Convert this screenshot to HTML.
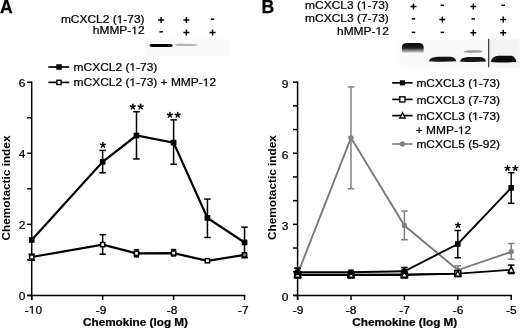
<!DOCTYPE html>
<html><head><meta charset="utf-8"><style>
html,body{margin:0;padding:0;background:#fff;}
body{width:520px;height:329px;overflow:hidden;}
svg{display:block;font-family:"Liberation Sans", sans-serif;filter:grayscale(1);}
</style></head><body>
<svg width="520" height="329" viewBox="0 0 520 329">
<defs>
<filter id="blur05" x="-20%" y="-100%" width="140%" height="300%"><feGaussianBlur stdDeviation="0.5"/></filter>
<filter id="blur1" x="-20%" y="-100%" width="140%" height="300%"><feGaussianBlur stdDeviation="0.6"/></filter>
<filter id="soft" x="-10%" y="-30%" width="120%" height="160%"><feGaussianBlur stdDeviation="1.2"/></filter>
<linearGradient id="bandA" x1="0" y1="0" x2="0" y2="1">
<stop offset="0" stop-color="#080808"/><stop offset="0.48" stop-color="#1c1c1c"/><stop offset="0.75" stop-color="#8a8a8a"/><stop offset="1" stop-color="#f6f6f6"/></linearGradient>
</defs>
<rect width="520" height="329" fill="#fff"/>
<text transform="translate(0.00,12.70) scale(1.000,1.080)" font-size="17.60" text-anchor="start" font-weight="bold" stroke="#000" stroke-width="0.25" >A</text>
<g transform="translate(144.60,23.20) scale(1.040,0.960)"><text font-size="11.50" text-anchor="end" font-weight="normal" stroke="#000" stroke-width="0.25" >mCXCL2 ( -73)</text><path transform="translate(-26.838,0) scale(0.00562,-0.00562)" d="M515 0V1237L197 1010V1180L530 1409H696V0Z" stroke="#000" stroke-width="44.5"/></g>
<g transform="translate(144.60,34.30) scale(1.040,0.960)"><text font-size="11.50" text-anchor="end" font-weight="normal" stroke="#000" stroke-width="0.25" >hMMP- 2</text><path transform="translate(-12.802,0) scale(0.00562,-0.00562)" d="M515 0V1237L197 1010V1180L530 1409H696V0Z" stroke="#000" stroke-width="44.5"/></g>
<path d="M158.15,19.22h6.00v1.45h-6.00z M160.43,16.95h1.45v6.00h-1.45z" fill="#000"/>
<rect x="159.40" y="31.05" width="3.50" height="1.50" fill="#000"/>
<path d="M183.40,19.22h6.00v1.45h-6.00z M185.68,16.95h1.45v6.00h-1.45z" fill="#000"/>
<path d="M183.40,31.77h6.00v1.45h-6.00z M185.68,29.50h1.45v6.00h-1.45z" fill="#000"/>
<rect x="210.80" y="18.45" width="3.50" height="1.50" fill="#000"/>
<path d="M209.55,31.77h6.00v1.45h-6.00z M211.83,29.50h1.45v6.00h-1.45z" fill="#000"/>
<rect x="144.5" y="39.5" width="85" height="16.5" fill="#f9f9f9" filter="url(#soft)"/>
<path d="M149.6,45.3 Q149.6,43.9 152,43.9 L170.5,44.1 Q172.8,44.3 172.8,45.6 Q172.8,46.9 170.5,47.0 L152,47.1 Q149.6,47.1 149.6,45.3 Z" fill="#000" filter="url(#blur05)"/>
<path d="M175.2,45.0 Q176,43.8 179,43.8 L194,43.9 Q198,44.2 198,44.8 Q197,45.9 194,46.0 L179,46.1 Q175.5,46.1 175.2,45.0 Z" fill="#b4b4b4" filter="url(#blur05)"/>
<line x1="48.3" y1="67.00" x2="69.2" y2="67.00" stroke="#000" stroke-width="1.7"/>
<rect x="56.25" y="64.25" width="5.50" height="5.50" fill="#000"/>
<g transform="translate(73.60,70.80) scale(1.040,0.960)"><text font-size="11.50" text-anchor="start" font-weight="normal" stroke="#000" stroke-width="0.25" >mCXCL2 ( -73)</text><path transform="translate(53.629,0) scale(0.00562,-0.00562)" d="M515 0V1237L197 1010V1180L530 1409H696V0Z" stroke="#000" stroke-width="44.5"/></g>
<line x1="48.3" y1="82.40" x2="69.2" y2="82.40" stroke="#000" stroke-width="1.7"/>
<rect x="56.90" y="80.30" width="4.20" height="4.20" fill="#fff" stroke="#000" stroke-width="1.40"/>
<g transform="translate(73.60,86.20) scale(1.040,0.960)"><text font-size="11.50" text-anchor="start" font-weight="normal" stroke="#000" stroke-width="0.25" >mCXCL2 ( -73) + MMP- 2</text><path transform="translate(53.629,0) scale(0.00562,-0.00562)" d="M515 0V1237L197 1010V1180L530 1409H696V0Z" stroke="#000" stroke-width="44.5"/><path transform="translate(124.182,0) scale(0.00562,-0.00562)" d="M515 0V1237L197 1010V1180L530 1409H696V0Z" stroke="#000" stroke-width="44.5"/></g>
<line x1="31.70" y1="81.47" x2="31.70" y2="300.00" stroke="#000" stroke-width="1.50"/>
<line x1="27.10" y1="295.40" x2="245.30" y2="295.40" stroke="#000" stroke-width="1.50"/>
<line x1="27.10" y1="295.40" x2="31.70" y2="295.40" stroke="#000" stroke-width="1.50"/>
<line x1="27.10" y1="259.87" x2="31.70" y2="259.87" stroke="#000" stroke-width="1.50"/>
<line x1="27.10" y1="224.34" x2="31.70" y2="224.34" stroke="#000" stroke-width="1.50"/>
<line x1="27.10" y1="188.81" x2="31.70" y2="188.81" stroke="#000" stroke-width="1.50"/>
<line x1="27.10" y1="153.28" x2="31.70" y2="153.28" stroke="#000" stroke-width="1.50"/>
<line x1="27.10" y1="117.75" x2="31.70" y2="117.75" stroke="#000" stroke-width="1.50"/>
<line x1="27.10" y1="82.22" x2="31.70" y2="82.22" stroke="#000" stroke-width="1.50"/>
<text transform="translate(25.40,299.80) scale(1.040,0.960)" font-size="11.50" text-anchor="end" font-weight="normal" stroke="#000" stroke-width="0.25" >0</text>
<text transform="translate(25.40,228.74) scale(1.040,0.960)" font-size="11.50" text-anchor="end" font-weight="normal" stroke="#000" stroke-width="0.25" >2</text>
<text transform="translate(25.40,157.68) scale(1.040,0.960)" font-size="11.50" text-anchor="end" font-weight="normal" stroke="#000" stroke-width="0.25" >4</text>
<text transform="translate(25.40,86.62) scale(1.040,0.960)" font-size="11.50" text-anchor="end" font-weight="normal" stroke="#000" stroke-width="0.25" >6</text>
<line x1="31.70" y1="295.40" x2="31.70" y2="300.00" stroke="#000" stroke-width="1.50"/>
<line x1="102.65" y1="295.40" x2="102.65" y2="300.00" stroke="#000" stroke-width="1.50"/>
<line x1="173.60" y1="295.40" x2="173.60" y2="300.00" stroke="#000" stroke-width="1.50"/>
<line x1="244.55" y1="295.40" x2="244.55" y2="300.00" stroke="#000" stroke-width="1.50"/>
<g transform="translate(33.40,313.60) scale(1.040,0.960)"><text font-size="11.50" text-anchor="middle" font-weight="normal" stroke="#000" stroke-width="0.25" >- 0</text><path transform="translate(-4.481,0) scale(0.00562,-0.00562)" d="M515 0V1237L197 1010V1180L530 1409H696V0Z" stroke="#000" stroke-width="44.5"/></g>
<text transform="translate(101.05,313.60) scale(1.040,0.960)" font-size="11.50" text-anchor="middle" font-weight="normal" stroke="#000" stroke-width="0.25" >-9</text>
<text transform="translate(172.05,313.60) scale(1.040,0.960)" font-size="11.50" text-anchor="middle" font-weight="normal" stroke="#000" stroke-width="0.25" >-8</text>
<text transform="translate(243.25,313.60) scale(1.040,0.960)" font-size="11.50" text-anchor="middle" font-weight="normal" stroke="#000" stroke-width="0.25" >-7</text>
<text transform="translate(135.50,326.30) scale(1.000,0.980)" font-size="11.75" text-anchor="middle" font-weight="bold" stroke="#000" stroke-width="0.25" >Chemokine (log M)</text>
<text transform="translate(9.6,188) rotate(-90)" font-size="11.80" text-anchor="middle" font-weight="bold">Chemotactic index</text>
<line x1="31.70" y1="254.19" x2="31.70" y2="260.23" stroke="#000" stroke-width="1.50"/>
<line x1="28.45" y1="254.19" x2="34.95" y2="254.19" stroke="#000" stroke-width="1.50"/>
<line x1="28.45" y1="260.23" x2="34.95" y2="260.23" stroke="#000" stroke-width="1.50"/>
<line x1="102.65" y1="234.64" x2="102.65" y2="254.19" stroke="#000" stroke-width="1.50"/>
<line x1="99.40" y1="234.64" x2="105.90" y2="234.64" stroke="#000" stroke-width="1.50"/>
<line x1="99.40" y1="254.19" x2="105.90" y2="254.19" stroke="#000" stroke-width="1.50"/>
<line x1="136.49" y1="249.74" x2="136.49" y2="256.85" stroke="#000" stroke-width="1.50"/>
<line x1="133.89" y1="249.74" x2="139.09" y2="249.74" stroke="#000" stroke-width="1.50"/>
<line x1="133.89" y1="256.85" x2="139.09" y2="256.85" stroke="#000" stroke-width="1.50"/>
<line x1="173.60" y1="249.57" x2="173.60" y2="255.96" stroke="#000" stroke-width="1.50"/>
<line x1="171.00" y1="249.57" x2="176.20" y2="249.57" stroke="#000" stroke-width="1.50"/>
<line x1="171.00" y1="255.96" x2="176.20" y2="255.96" stroke="#000" stroke-width="1.50"/>
<polyline points="31.70,257.03 102.65,244.59 136.49,253.30 173.60,253.12 207.44,260.76 244.55,254.90" fill="none" stroke="#000" stroke-width="2.20" stroke-linejoin="miter"/>
<line x1="102.65" y1="150.44" x2="102.65" y2="172.82" stroke="#000" stroke-width="1.50"/>
<line x1="99.40" y1="150.44" x2="105.90" y2="150.44" stroke="#000" stroke-width="1.50"/>
<line x1="99.40" y1="172.82" x2="105.90" y2="172.82" stroke="#000" stroke-width="1.50"/>
<line x1="136.49" y1="111.71" x2="136.49" y2="158.96" stroke="#000" stroke-width="1.50"/>
<line x1="133.24" y1="111.71" x2="139.74" y2="111.71" stroke="#000" stroke-width="1.50"/>
<line x1="133.24" y1="158.96" x2="139.74" y2="158.96" stroke="#000" stroke-width="1.50"/>
<line x1="173.60" y1="119.88" x2="173.60" y2="164.29" stroke="#000" stroke-width="1.50"/>
<line x1="170.35" y1="119.88" x2="176.85" y2="119.88" stroke="#000" stroke-width="1.50"/>
<line x1="170.35" y1="164.29" x2="176.85" y2="164.29" stroke="#000" stroke-width="1.50"/>
<line x1="207.44" y1="199.11" x2="207.44" y2="237.49" stroke="#000" stroke-width="1.50"/>
<line x1="204.19" y1="199.11" x2="210.69" y2="199.11" stroke="#000" stroke-width="1.50"/>
<line x1="204.19" y1="237.49" x2="210.69" y2="237.49" stroke="#000" stroke-width="1.50"/>
<line x1="244.55" y1="227.18" x2="244.55" y2="257.74" stroke="#000" stroke-width="1.50"/>
<line x1="241.30" y1="227.18" x2="247.80" y2="227.18" stroke="#000" stroke-width="1.50"/>
<line x1="241.30" y1="257.74" x2="247.80" y2="257.74" stroke="#000" stroke-width="1.50"/>
<polyline points="31.70,239.97 102.65,161.81 136.49,135.51 173.60,142.62 207.44,217.94 244.55,242.46" fill="none" stroke="#000" stroke-width="2.20" stroke-linejoin="miter"/>
<rect x="29.60" y="254.93" width="4.20" height="4.20" fill="#fff" stroke="#000" stroke-width="1.50"/>
<rect x="100.55" y="242.49" width="4.20" height="4.20" fill="#fff" stroke="#000" stroke-width="1.50"/>
<rect x="134.39" y="251.20" width="4.20" height="4.20" fill="#fff" stroke="#000" stroke-width="1.50"/>
<rect x="171.50" y="251.02" width="4.20" height="4.20" fill="#fff" stroke="#000" stroke-width="1.50"/>
<rect x="205.34" y="258.66" width="4.20" height="4.20" fill="#fff" stroke="#000" stroke-width="1.50"/>
<rect x="242.45" y="252.80" width="4.20" height="4.20" fill="#8a8a8a" stroke="#000" stroke-width="1.50"/>
<rect x="28.85" y="237.12" width="5.70" height="5.70" fill="#000"/>
<rect x="99.80" y="158.96" width="5.70" height="5.70" fill="#000"/>
<rect x="133.64" y="132.66" width="5.70" height="5.70" fill="#000"/>
<rect x="170.75" y="139.77" width="5.70" height="5.70" fill="#000"/>
<rect x="204.59" y="215.09" width="5.70" height="5.70" fill="#000"/>
<rect x="241.70" y="239.61" width="5.70" height="5.70" fill="#000"/>
<line x1="102.90" y1="145.10" x2="102.90" y2="142.55" stroke="#000" stroke-width="1.45" stroke-linecap="round"/>
<line x1="102.90" y1="145.10" x2="105.33" y2="144.31" stroke="#000" stroke-width="1.45" stroke-linecap="round"/>
<line x1="102.90" y1="145.10" x2="104.40" y2="147.16" stroke="#000" stroke-width="1.45" stroke-linecap="round"/>
<line x1="102.90" y1="145.10" x2="101.40" y2="147.16" stroke="#000" stroke-width="1.45" stroke-linecap="round"/>
<line x1="102.90" y1="145.10" x2="100.47" y2="144.31" stroke="#000" stroke-width="1.45" stroke-linecap="round"/>
<line x1="132.85" y1="106.80" x2="132.85" y2="104.25" stroke="#000" stroke-width="1.45" stroke-linecap="round"/>
<line x1="132.85" y1="106.80" x2="135.28" y2="106.01" stroke="#000" stroke-width="1.45" stroke-linecap="round"/>
<line x1="132.85" y1="106.80" x2="134.35" y2="108.86" stroke="#000" stroke-width="1.45" stroke-linecap="round"/>
<line x1="132.85" y1="106.80" x2="131.35" y2="108.86" stroke="#000" stroke-width="1.45" stroke-linecap="round"/>
<line x1="132.85" y1="106.80" x2="130.42" y2="106.01" stroke="#000" stroke-width="1.45" stroke-linecap="round"/>
<line x1="140.65" y1="106.80" x2="140.65" y2="104.25" stroke="#000" stroke-width="1.45" stroke-linecap="round"/>
<line x1="140.65" y1="106.80" x2="143.08" y2="106.01" stroke="#000" stroke-width="1.45" stroke-linecap="round"/>
<line x1="140.65" y1="106.80" x2="142.15" y2="108.86" stroke="#000" stroke-width="1.45" stroke-linecap="round"/>
<line x1="140.65" y1="106.80" x2="139.15" y2="108.86" stroke="#000" stroke-width="1.45" stroke-linecap="round"/>
<line x1="140.65" y1="106.80" x2="138.22" y2="106.01" stroke="#000" stroke-width="1.45" stroke-linecap="round"/>
<line x1="169.90" y1="115.00" x2="169.90" y2="112.45" stroke="#000" stroke-width="1.45" stroke-linecap="round"/>
<line x1="169.90" y1="115.00" x2="172.33" y2="114.21" stroke="#000" stroke-width="1.45" stroke-linecap="round"/>
<line x1="169.90" y1="115.00" x2="171.40" y2="117.06" stroke="#000" stroke-width="1.45" stroke-linecap="round"/>
<line x1="169.90" y1="115.00" x2="168.40" y2="117.06" stroke="#000" stroke-width="1.45" stroke-linecap="round"/>
<line x1="169.90" y1="115.00" x2="167.47" y2="114.21" stroke="#000" stroke-width="1.45" stroke-linecap="round"/>
<line x1="177.70" y1="115.00" x2="177.70" y2="112.45" stroke="#000" stroke-width="1.45" stroke-linecap="round"/>
<line x1="177.70" y1="115.00" x2="180.13" y2="114.21" stroke="#000" stroke-width="1.45" stroke-linecap="round"/>
<line x1="177.70" y1="115.00" x2="179.20" y2="117.06" stroke="#000" stroke-width="1.45" stroke-linecap="round"/>
<line x1="177.70" y1="115.00" x2="176.20" y2="117.06" stroke="#000" stroke-width="1.45" stroke-linecap="round"/>
<line x1="177.70" y1="115.00" x2="175.27" y2="114.21" stroke="#000" stroke-width="1.45" stroke-linecap="round"/>
<text transform="translate(261.40,13.00) scale(1.000,1.080)" font-size="17.60" text-anchor="start" font-weight="bold" stroke="#000" stroke-width="0.25" >B</text>
<g transform="translate(388.80,9.20) scale(1.040,0.960)"><text font-size="11.50" text-anchor="end" font-weight="normal" stroke="#000" stroke-width="0.25" >mCXCL3 ( -73)</text><path transform="translate(-26.838,0) scale(0.00562,-0.00562)" d="M515 0V1237L197 1010V1180L530 1409H696V0Z" stroke="#000" stroke-width="44.5"/></g>
<text transform="translate(388.80,22.10) scale(1.040,0.960)" font-size="11.50" text-anchor="end" font-weight="normal" stroke="#000" stroke-width="0.25" >mCXCL3 (7-73)</text>
<g transform="translate(388.80,34.80) scale(1.040,0.960)"><text font-size="11.50" text-anchor="end" font-weight="normal" stroke="#000" stroke-width="0.25" >hMMP- 2</text><path transform="translate(-12.802,0) scale(0.00562,-0.00562)" d="M515 0V1237L197 1010V1180L530 1409H696V0Z" stroke="#000" stroke-width="44.5"/></g>
<path d="M410.45,5.68h6.00v1.45h-6.00z M412.72,3.40h1.45v6.00h-1.45z" fill="#000"/>
<rect x="440.60" y="4.55" width="3.50" height="1.50" fill="#000"/>
<path d="M470.30,5.68h6.00v1.45h-6.00z M472.57,3.40h1.45v6.00h-1.45z" fill="#000"/>
<rect x="501.45" y="4.55" width="3.50" height="1.50" fill="#000"/>
<rect x="411.70" y="18.10" width="3.50" height="1.50" fill="#000"/>
<path d="M439.35,18.72h6.00v1.45h-6.00z M441.62,16.45h1.45v6.00h-1.45z" fill="#000"/>
<rect x="471.55" y="18.10" width="3.50" height="1.50" fill="#000"/>
<path d="M500.20,18.72h6.00v1.45h-6.00z M502.47,16.45h1.45v6.00h-1.45z" fill="#000"/>
<rect x="411.70" y="31.60" width="3.50" height="1.50" fill="#000"/>
<rect x="440.60" y="31.60" width="3.50" height="1.50" fill="#000"/>
<path d="M470.30,32.07h6.00v1.45h-6.00z M472.57,29.80h1.45v6.00h-1.45z" fill="#000"/>
<path d="M500.20,32.07h6.00v1.45h-6.00z M502.47,29.80h1.45v6.00h-1.45z" fill="#000"/>
<rect x="399.5" y="40" width="121" height="27.5" fill="#fafafa" filter="url(#soft)"/>
<rect x="489" y="39" width="31" height="28.5" fill="#f3f3f3" filter="url(#soft)"/>
<path d="M401.9,53.2 L401.9,47 Q402.2,42.9 407,42.9 L418.5,42.9 Q423.6,42.9 423.7,47 L423.7,53.2 Z" fill="url(#bandA)" filter="url(#blur05)"/>
<path d="M429.00,61.20 Q430.00,57.10 437.19,56.80 L450.84,56.80 Q455.50,57.40 456.30,61.30 Q442.65,62.20 429.00,61.20 Z" fill="#151515" filter="url(#blur05)"/>
<path d="M460.00,61.50 Q461.00,57.40 467.80,57.10 L480.80,57.10 Q485.20,57.70 486.00,61.60 Q473.00,62.50 460.00,61.50 Z" fill="#151515" filter="url(#blur05)"/>
<path d="M490.80,62.00 Q491.80,56.10 498.48,55.80 L511.28,55.80 Q515.60,56.40 516.40,62.10 Q503.60,63.00 490.80,62.00 Z" fill="#111" filter="url(#blur05)"/>
<path d="M463.30,52.20 Q464.30,50.50 469.21,50.20 L479.06,50.20 Q482.20,50.80 483.00,52.30 Q473.15,53.20 463.30,52.20 Z" fill="#9a9a9a" filter="url(#blur05)"/>
<line x1="488.7" y1="38.8" x2="488.7" y2="67.2" stroke="#222" stroke-width="1.1"/>
<line x1="392.2" y1="82.85" x2="412.6" y2="82.85" stroke="#000" stroke-width="1.7"/>
<rect x="399.85" y="80.30" width="5.10" height="5.10" fill="#000"/>
<g transform="translate(416.40,86.85) scale(1.040,0.960)"><text font-size="11.50" text-anchor="start" font-weight="normal" stroke="#000" stroke-width="0.25" >mCXCL3 ( -73)</text><path transform="translate(53.629,0) scale(0.00562,-0.00562)" d="M515 0V1237L197 1010V1180L530 1409H696V0Z" stroke="#000" stroke-width="44.5"/></g>
<line x1="392.2" y1="99.40" x2="412.6" y2="99.40" stroke="#000" stroke-width="1.7"/>
<rect x="399.80" y="96.80" width="5.20" height="5.20" fill="#fff" stroke="#000" stroke-width="1.35"/>
<text transform="translate(416.40,103.70) scale(1.040,0.960)" font-size="11.50" text-anchor="start" font-weight="normal" stroke="#000" stroke-width="0.25" >mCXCL3 (7-73)</text>
<line x1="392.2" y1="115.60" x2="412.6" y2="115.60" stroke="#000" stroke-width="1.7"/>
<polygon points="402.50,112.77 405.20,118.03 399.80,118.03" fill="#fff" stroke="#000" stroke-width="1.35" stroke-linejoin="miter"/>
<g transform="translate(416.40,120.10) scale(1.040,0.960)"><text font-size="11.50" text-anchor="start" font-weight="normal" stroke="#000" stroke-width="0.25" >mCXCL3 ( -73)</text><path transform="translate(53.629,0) scale(0.00562,-0.00562)" d="M515 0V1237L197 1010V1180L530 1409H696V0Z" stroke="#000" stroke-width="44.5"/></g>
<line x1="392.2" y1="144.00" x2="412.6" y2="144.00" stroke="#808080" stroke-width="1.7"/>
<circle cx="402.45" cy="144.00" r="2.70" fill="#808080"/>
<text transform="translate(416.40,148.10) scale(1.040,0.960)" font-size="11.50" text-anchor="start" font-weight="normal" stroke="#000" stroke-width="0.25" >mCXCL5 (5-92)</text>
<g transform="translate(415.80,134.20) scale(1.040,0.960)"><text font-size="11.50" text-anchor="start" font-weight="normal" stroke="#000" stroke-width="0.25" >+ MMP- 2</text><path transform="translate(40.530,0) scale(0.00562,-0.00562)" d="M515 0V1237L197 1010V1180L530 1409H696V0Z" stroke="#000" stroke-width="44.5"/></g>
<line x1="297.60" y1="81.44" x2="297.60" y2="300.00" stroke="#000" stroke-width="1.50"/>
<line x1="293.00" y1="295.40" x2="511.95" y2="295.40" stroke="#000" stroke-width="1.50"/>
<line x1="293.00" y1="295.40" x2="297.60" y2="295.40" stroke="#000" stroke-width="1.50"/>
<line x1="293.00" y1="271.71" x2="297.60" y2="271.71" stroke="#000" stroke-width="1.50"/>
<line x1="293.00" y1="248.02" x2="297.60" y2="248.02" stroke="#000" stroke-width="1.50"/>
<line x1="293.00" y1="224.33" x2="297.60" y2="224.33" stroke="#000" stroke-width="1.50"/>
<line x1="293.00" y1="200.64" x2="297.60" y2="200.64" stroke="#000" stroke-width="1.50"/>
<line x1="293.00" y1="176.95" x2="297.60" y2="176.95" stroke="#000" stroke-width="1.50"/>
<line x1="293.00" y1="153.26" x2="297.60" y2="153.26" stroke="#000" stroke-width="1.50"/>
<line x1="293.00" y1="129.57" x2="297.60" y2="129.57" stroke="#000" stroke-width="1.50"/>
<line x1="293.00" y1="105.88" x2="297.60" y2="105.88" stroke="#000" stroke-width="1.50"/>
<line x1="293.00" y1="82.19" x2="297.60" y2="82.19" stroke="#000" stroke-width="1.50"/>
<text transform="translate(288.30,301.30) scale(1.040,0.960)" font-size="11.50" text-anchor="end" font-weight="normal" stroke="#000" stroke-width="0.25" >0</text>
<text transform="translate(288.30,230.23) scale(1.040,0.960)" font-size="11.50" text-anchor="end" font-weight="normal" stroke="#000" stroke-width="0.25" >3</text>
<text transform="translate(288.30,159.16) scale(1.040,0.960)" font-size="11.50" text-anchor="end" font-weight="normal" stroke="#000" stroke-width="0.25" >6</text>
<text transform="translate(288.30,88.09) scale(1.040,0.960)" font-size="11.50" text-anchor="end" font-weight="normal" stroke="#000" stroke-width="0.25" >9</text>
<line x1="297.60" y1="295.40" x2="297.60" y2="300.00" stroke="#000" stroke-width="1.50"/>
<line x1="351.00" y1="295.40" x2="351.00" y2="300.00" stroke="#000" stroke-width="1.50"/>
<line x1="404.40" y1="295.40" x2="404.40" y2="300.00" stroke="#000" stroke-width="1.50"/>
<line x1="457.80" y1="295.40" x2="457.80" y2="300.00" stroke="#000" stroke-width="1.50"/>
<line x1="511.20" y1="295.40" x2="511.20" y2="300.00" stroke="#000" stroke-width="1.50"/>
<text transform="translate(298.00,313.60) scale(1.040,0.960)" font-size="11.50" text-anchor="middle" font-weight="normal" stroke="#000" stroke-width="0.25" >-9</text>
<text transform="translate(351.20,313.60) scale(1.040,0.960)" font-size="11.50" text-anchor="middle" font-weight="normal" stroke="#000" stroke-width="0.25" >-8</text>
<text transform="translate(404.50,313.60) scale(1.040,0.960)" font-size="11.50" text-anchor="middle" font-weight="normal" stroke="#000" stroke-width="0.25" >-7</text>
<text transform="translate(458.05,313.60) scale(1.040,0.960)" font-size="11.50" text-anchor="middle" font-weight="normal" stroke="#000" stroke-width="0.25" >-6</text>
<text transform="translate(511.35,313.60) scale(1.040,0.960)" font-size="11.50" text-anchor="middle" font-weight="normal" stroke="#000" stroke-width="0.25" >-5</text>
<text transform="translate(404.75,326.30) scale(1.000,0.980)" font-size="11.75" text-anchor="middle" font-weight="bold" stroke="#000" stroke-width="0.25" >Chemokine (log M)</text>
<text transform="translate(275.7,187.6) rotate(-90)" font-size="11.80" text-anchor="middle" font-weight="bold">Chemotactic index</text>
<line x1="297.60" y1="268.16" x2="297.60" y2="277.63" stroke="#808080" stroke-width="1.50"/>
<line x1="294.25" y1="268.16" x2="300.95" y2="268.16" stroke="#808080" stroke-width="1.50"/>
<line x1="294.25" y1="277.63" x2="300.95" y2="277.63" stroke="#808080" stroke-width="1.50"/>
<line x1="351.00" y1="86.93" x2="351.00" y2="188.79" stroke="#808080" stroke-width="1.50"/>
<line x1="347.65" y1="86.93" x2="354.35" y2="86.93" stroke="#808080" stroke-width="1.50"/>
<line x1="347.65" y1="188.79" x2="354.35" y2="188.79" stroke="#808080" stroke-width="1.50"/>
<line x1="404.40" y1="211.06" x2="404.40" y2="239.73" stroke="#808080" stroke-width="1.50"/>
<line x1="401.05" y1="211.06" x2="407.75" y2="211.06" stroke="#808080" stroke-width="1.50"/>
<line x1="401.05" y1="239.73" x2="407.75" y2="239.73" stroke="#808080" stroke-width="1.50"/>
<line x1="457.80" y1="265.79" x2="457.80" y2="274.08" stroke="#808080" stroke-width="1.50"/>
<line x1="454.45" y1="265.79" x2="461.15" y2="265.79" stroke="#808080" stroke-width="1.50"/>
<line x1="454.45" y1="274.08" x2="461.15" y2="274.08" stroke="#808080" stroke-width="1.50"/>
<line x1="511.20" y1="243.52" x2="511.20" y2="259.15" stroke="#808080" stroke-width="1.50"/>
<line x1="507.85" y1="243.52" x2="514.55" y2="243.52" stroke="#808080" stroke-width="1.50"/>
<line x1="507.85" y1="259.15" x2="514.55" y2="259.15" stroke="#808080" stroke-width="1.50"/>
<polyline points="297.60,274.08 351.00,137.86 404.40,225.51 457.80,270.05 511.20,251.81" fill="none" stroke="#7a7a7a" stroke-width="1.90" stroke-linejoin="miter"/>
<circle cx="297.60" cy="274.08" r="2.70" fill="#808080"/>
<circle cx="351.00" cy="137.86" r="2.70" fill="#808080"/>
<circle cx="404.40" cy="225.51" r="2.70" fill="#808080"/>
<circle cx="457.80" cy="270.05" r="2.70" fill="#808080"/>
<circle cx="511.20" cy="251.81" r="2.70" fill="#808080"/>
<line x1="511.20" y1="265.08" x2="511.20" y2="273.61" stroke="#000" stroke-width="1.50"/>
<line x1="507.95" y1="265.08" x2="514.45" y2="265.08" stroke="#000" stroke-width="1.50"/>
<line x1="507.95" y1="273.61" x2="514.45" y2="273.61" stroke="#000" stroke-width="1.50"/>
<polyline points="297.60,275.03 351.00,275.03 404.40,275.03 457.80,273.61" fill="none" stroke="#000" stroke-width="1.80" stroke-linejoin="miter"/>
<polyline points="297.60,274.55 351.00,274.55 404.40,274.43 457.80,273.61 511.20,269.81" fill="none" stroke="#000" stroke-width="1.80" stroke-linejoin="miter"/>
<line x1="297.60" y1="268.16" x2="297.60" y2="276.45" stroke="#000" stroke-width="1.50"/>
<line x1="294.35" y1="268.16" x2="300.85" y2="268.16" stroke="#000" stroke-width="1.50"/>
<line x1="294.35" y1="276.45" x2="300.85" y2="276.45" stroke="#000" stroke-width="1.50"/>
<line x1="404.40" y1="267.45" x2="404.40" y2="274.08" stroke="#000" stroke-width="1.50"/>
<line x1="401.15" y1="267.45" x2="407.65" y2="267.45" stroke="#000" stroke-width="1.50"/>
<line x1="401.15" y1="274.08" x2="407.65" y2="274.08" stroke="#000" stroke-width="1.50"/>
<line x1="457.80" y1="230.49" x2="457.80" y2="257.73" stroke="#000" stroke-width="1.50"/>
<line x1="454.55" y1="230.49" x2="461.05" y2="230.49" stroke="#000" stroke-width="1.50"/>
<line x1="454.55" y1="257.73" x2="461.05" y2="257.73" stroke="#000" stroke-width="1.50"/>
<line x1="511.20" y1="172.69" x2="511.20" y2="203.25" stroke="#000" stroke-width="1.50"/>
<line x1="507.95" y1="172.69" x2="514.45" y2="172.69" stroke="#000" stroke-width="1.50"/>
<line x1="507.95" y1="203.25" x2="514.45" y2="203.25" stroke="#000" stroke-width="1.50"/>
<polyline points="297.60,272.30 351.00,272.30 404.40,271.24 457.80,243.99 511.20,187.85" fill="none" stroke="#000" stroke-width="1.90" stroke-linejoin="miter"/>
<rect x="294.60" y="272.03" width="6.00" height="6.00" fill="#fff" stroke="#000" stroke-width="1.50"/>
<rect x="348.00" y="272.03" width="6.00" height="6.00" fill="#fff" stroke="#000" stroke-width="1.50"/>
<rect x="401.40" y="272.03" width="6.00" height="6.00" fill="#fff" stroke="#000" stroke-width="1.50"/>
<rect x="454.80" y="270.61" width="6.00" height="6.00" fill="#fff" stroke="#000" stroke-width="1.50"/>
<polygon points="297.60,271.45 300.60,277.25 294.60,277.25" fill="#fff" stroke="#000" stroke-width="1.50" stroke-linejoin="miter"/>
<polygon points="351.00,271.45 354.00,277.25 348.00,277.25" fill="#fff" stroke="#000" stroke-width="1.50" stroke-linejoin="miter"/>
<polygon points="404.40,271.33 407.40,277.13 401.40,277.13" fill="#fff" stroke="#000" stroke-width="1.50" stroke-linejoin="miter"/>
<polygon points="457.80,270.51 460.80,276.31 454.80,276.31" fill="#fff" stroke="#000" stroke-width="1.50" stroke-linejoin="miter"/>
<polygon points="511.20,266.71 514.20,272.51 508.20,272.51" fill="#fff" stroke="#000" stroke-width="1.50" stroke-linejoin="miter"/>
<rect x="294.80" y="269.50" width="5.60" height="5.60" fill="#000"/>
<rect x="348.20" y="269.50" width="5.60" height="5.60" fill="#000"/>
<rect x="401.60" y="268.44" width="5.60" height="5.60" fill="#000"/>
<rect x="455.00" y="241.19" width="5.60" height="5.60" fill="#000"/>
<rect x="508.40" y="185.05" width="5.60" height="5.60" fill="#000"/>
<line x1="458.00" y1="225.20" x2="458.00" y2="222.65" stroke="#000" stroke-width="1.45" stroke-linecap="round"/>
<line x1="458.00" y1="225.20" x2="460.43" y2="224.41" stroke="#000" stroke-width="1.45" stroke-linecap="round"/>
<line x1="458.00" y1="225.20" x2="459.50" y2="227.26" stroke="#000" stroke-width="1.45" stroke-linecap="round"/>
<line x1="458.00" y1="225.20" x2="456.50" y2="227.26" stroke="#000" stroke-width="1.45" stroke-linecap="round"/>
<line x1="458.00" y1="225.20" x2="455.57" y2="224.41" stroke="#000" stroke-width="1.45" stroke-linecap="round"/>
<line x1="507.50" y1="168.20" x2="507.50" y2="165.65" stroke="#000" stroke-width="1.45" stroke-linecap="round"/>
<line x1="507.50" y1="168.20" x2="509.93" y2="167.41" stroke="#000" stroke-width="1.45" stroke-linecap="round"/>
<line x1="507.50" y1="168.20" x2="509.00" y2="170.26" stroke="#000" stroke-width="1.45" stroke-linecap="round"/>
<line x1="507.50" y1="168.20" x2="506.00" y2="170.26" stroke="#000" stroke-width="1.45" stroke-linecap="round"/>
<line x1="507.50" y1="168.20" x2="505.07" y2="167.41" stroke="#000" stroke-width="1.45" stroke-linecap="round"/>
<line x1="515.30" y1="168.20" x2="515.30" y2="165.65" stroke="#000" stroke-width="1.45" stroke-linecap="round"/>
<line x1="515.30" y1="168.20" x2="517.73" y2="167.41" stroke="#000" stroke-width="1.45" stroke-linecap="round"/>
<line x1="515.30" y1="168.20" x2="516.80" y2="170.26" stroke="#000" stroke-width="1.45" stroke-linecap="round"/>
<line x1="515.30" y1="168.20" x2="513.80" y2="170.26" stroke="#000" stroke-width="1.45" stroke-linecap="round"/>
<line x1="515.30" y1="168.20" x2="512.87" y2="167.41" stroke="#000" stroke-width="1.45" stroke-linecap="round"/>
</svg>
</body></html>
